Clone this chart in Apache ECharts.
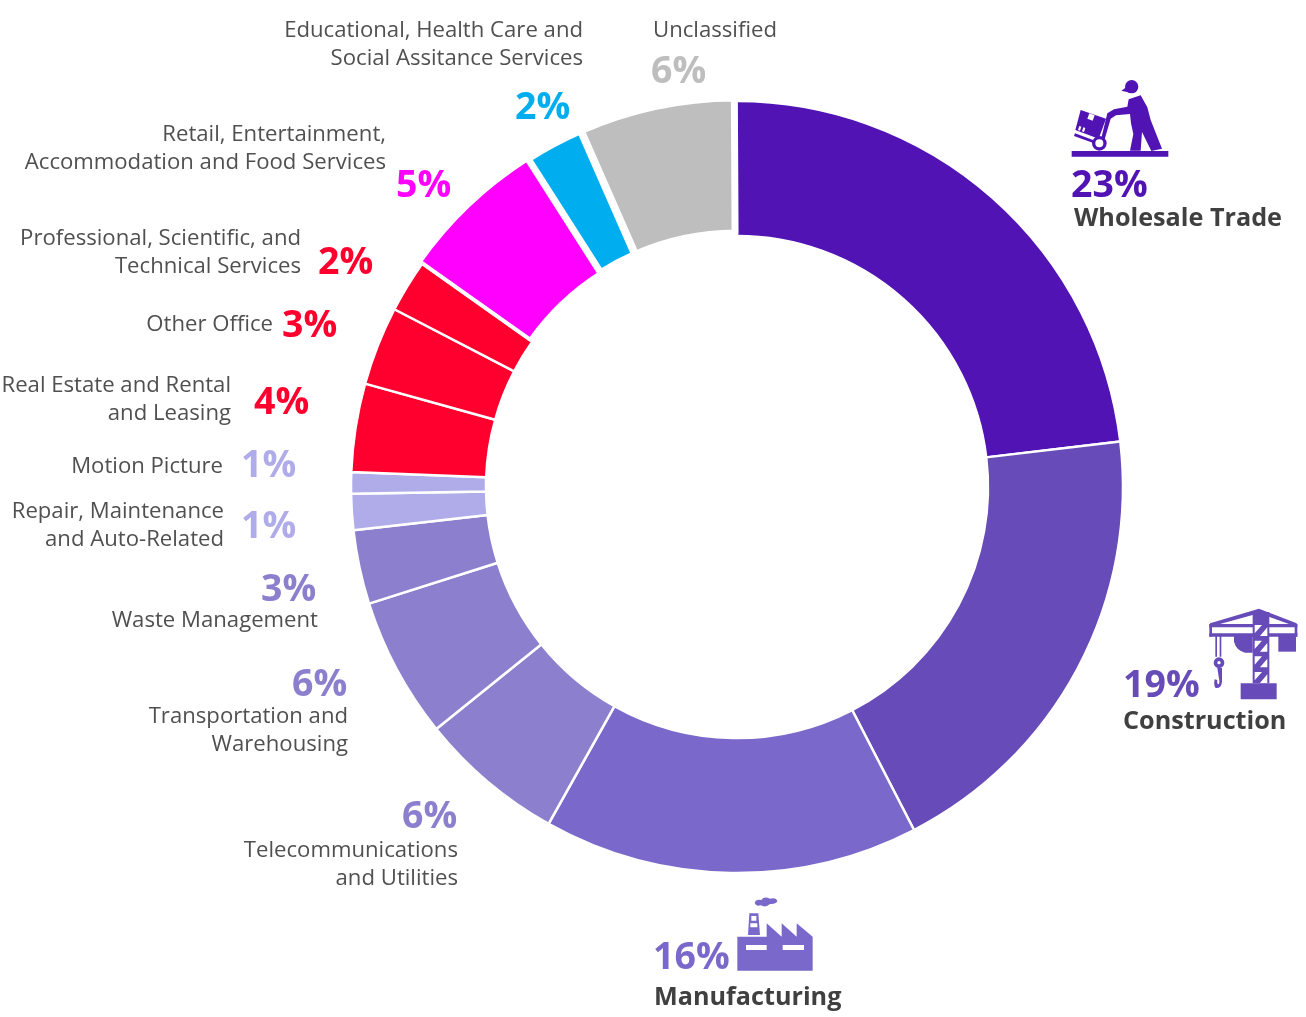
<!DOCTYPE html>
<html><head><meta charset="utf-8">
<style>html,body{margin:0;padding:0;background:#fff}#c{width:1306px;height:1017px}</style>
<script src="https://cdn.jsdelivr.net/npm/echarts@6/dist/echarts.min.js"></script>
</head><body><div id="c"></div>
<script>
const categories = ["Wholesale Trade","Construction","Manufacturing","Telecommunications\nand Utilities","Transportation and\nWarehousing","Waste Management","Repair, Maintenance\nand Auto-Related","Motion Picture","Real Estate and Rental\nand Leasing","Other Office","Professional, Scientific, and\nTechnical Services","Retail, Entertainment,\nAccommodation and Food Services","Educational, Health Care and\nSocial Assitance Services","Unclassified"];
const shares = [23.2,19.3,15.7,6.1,5.9,3.1,1.5,0.9,3.7,3.3,2.2,6.15,2.45,6.5];
const shownPercents = ["23%","19%","16%","6%","6%","3%","1%","1%","4%","3%","2%","5%","2%","6%"];
const colors = ["#5113B4","#674BB8","#7A69CB","#8C80CE","#8C80CE","#8C80CE","#B0ACEA","#B0ACEA","#FF002E","#FF002E","#FF002E","#FF00FF","#00AEEF","#BEBEBE"];
const gapWidths = [2.5,2.5,2.5,2.5,2.5,2.5,2.5,2.5,2.5,2.5,2.5,4,7,7];
const detached = [false,false,false,false,false,false,false,false,false,false,false,true,true,true];

// label placement: name [anchor x, centre y, align, weight], percent [left x, centre y]
const placement = [
 {n:[1074,219,'left',1],p:[1071,186]},
 {n:[1123,722,'left',1],p:[1123,686]},
 {n:[654,998,'left',1],p:[653,958]},
 {n:[458,865,'right'],p:[402,817]},
 {n:[348,731,'right'],p:[292,685]},
 {n:[318,621,'right'],p:[261,590]},
 {n:[224,526,'right'],p:[241,527]},
 {n:[223,467,'right'],p:[241,466]},
 {n:[231,400,'right'],p:[254,403]},
 {n:[273,325,'right'],p:[282,326]},
 {n:[301,253,'right'],p:[318,263]},
 {n:[386,149,'right'],p:[396,186]},
 {n:[583,45,'right'],p:[515,108]},
 {n:[653,31,'left'],p:[651,72]}
];
const FONT = '"Open Sans","Noto Sans",sans-serif';
const texts = [];
categories.forEach((c,i)=>{
  const a = placement[i];
  texts.push({type:'text',silent:true,x:a.n[0],y:a.n[1],style:{
    text:c,align:a.n[2],verticalAlign:'middle',lineHeight:28,
    fontFamily:FONT,fontSize:a.n[3]?25.2:22.15,fontWeight:a.n[3]?700:400,fill:a.n[3]?'#404040':'#505050'}});
  texts.push({type:'text',silent:true,x:a.p[0],y:a.p[1],style:{
    text:shownPercents[i],align:'left',verticalAlign:'middle',
    fontFamily:FONT,fontSize:37.5,fontWeight:700,fill:colors[i]}});
});

let shapeCount = 0;
function P(d,fill){
  const name = 'iconShape' + (shapeCount++);
  echarts.graphic.registerShape(name, echarts.graphic.extendPath(d, {}));
  return {type:name,silent:true,style:{fill:fill}};
}
function icon(x,y,children){return {type:'group',silent:true,x:x,y:y,scaleX:1/3,scaleY:1/3,children:children};}
const W='#ffffff', c0=colors[0], c1=colors[1], c2=colors[2];
const worker = icon(1050,70,[
  P('M65 243H355V260H65Z',c0),
  P('M225 50a20 20 0 1 1 40 0a20 20 0 1 1 -40 0Z',c0),
  P('M214 62L234 48L240 68Z',c0),
  P('M236 88L272 76L292 112L302 150L336 236L304 243L276 186L272 242L240 242L250 192L243 160L240 132L198 136L182 146L164 208L154 204L172 130L192 118L232 110Z',c0),
  P('M92 120L168 146L146 206L76 180Z',c0),
  P('M118 130L134 136L128 152L112 146Z',W),
  P('M88 168L94 170L90 182L84 180Z M100 172L106 174L102 186L96 184Z',W),
  P('M75 190L135 212L132 220L72 198Z',c0),
  P('M126 220a22 22 0 1 1 44 0a22 22 0 1 1 -44 0Z M136 220a12 12 0 1 0 24 0a12 12 0 1 0 -24 0Z',c0)
]);
const latticeCells = [70,117,164,211];
const crane = icon(1110,600,[
  P('M392 250H500V298H392Z',c1),
  P('M428 36H478V250H428Z',c1),
  P('M447 26L300 70V80L447 40Z',c1),
  P('M447 26L560 70V80L447 40Z',c1),
  P('M298 72H562V82H298Z',c1),
  P('M298 100H562V110H298Z',c1),
  P('M298 72H306V110H298Z',c1),
  P('M554 72H562V110H554Z',c1),
  P('M372 108H428V158H405Q378 150 372 125Z',c1),
  P('M505 108H558V155H505Z',c1)
].concat(latticeCells.map(y=>P('M434 '+(y+5)+'H456L434 '+(y+30)+'Z M472 '+(y+12)+'V'+(y+38)+'H450Z',W))).concat([
  P('M316 108H321V170H316Z M329 108H334V170H329Z',c1),
  P('M311 188a16 16 0 1 1 32 0a16 16 0 1 1 -32 0Z M322 188a5 5 0 1 0 10 0a5 5 0 1 0 -10 0Z',c1),
  P('M322 204H336V245Q334 266 317 264Q310 256 314 238L322 240Q320 252 326 253Q330 248 326 230Z',c1)
]));
const factory = icon(640,890,[
  P('M292 140H380V100L425 140V100L470 140V100L518 140V242H292Z',c2),
  P('M318 165H380V180H318Z M428 165H492V180H428Z',W),
  P('M328 70H355L360 135H324Z',c2),
  P('M334 78H349V92H334Z M331 100H352V112H331Z',W),
  P('M344 38Q348 26 364 30Q372 18 390 26Q410 22 412 34Q406 44 390 42Q378 54 362 46Q348 50 344 38Z',c2)
]);

const chart = echarts.init(document.getElementById('c'),null,{renderer:'canvas'});
chart.setOption({
  animation:false,
  backgroundColor:'#fff',
  series:[{
    type:'pie',silent:true,selectedMode:'multiple',selectedOffset:3,
    center:[737,487],radius:[251,386],startAngle:90.3,clockwise:true,
    label:{show:false},labelLine:{show:false},
    data:categories.map((c,i)=>{
      const st={color:colors[i],borderColor:'#fff',borderWidth:gapWidths[i]};
      return {name:c,value:shares[i],selected:detached[i],itemStyle:st,select:{itemStyle:st}};
    })
  }],
  graphic:{elements:texts.concat([worker,crane,factory])}
});
</script></body></html>
